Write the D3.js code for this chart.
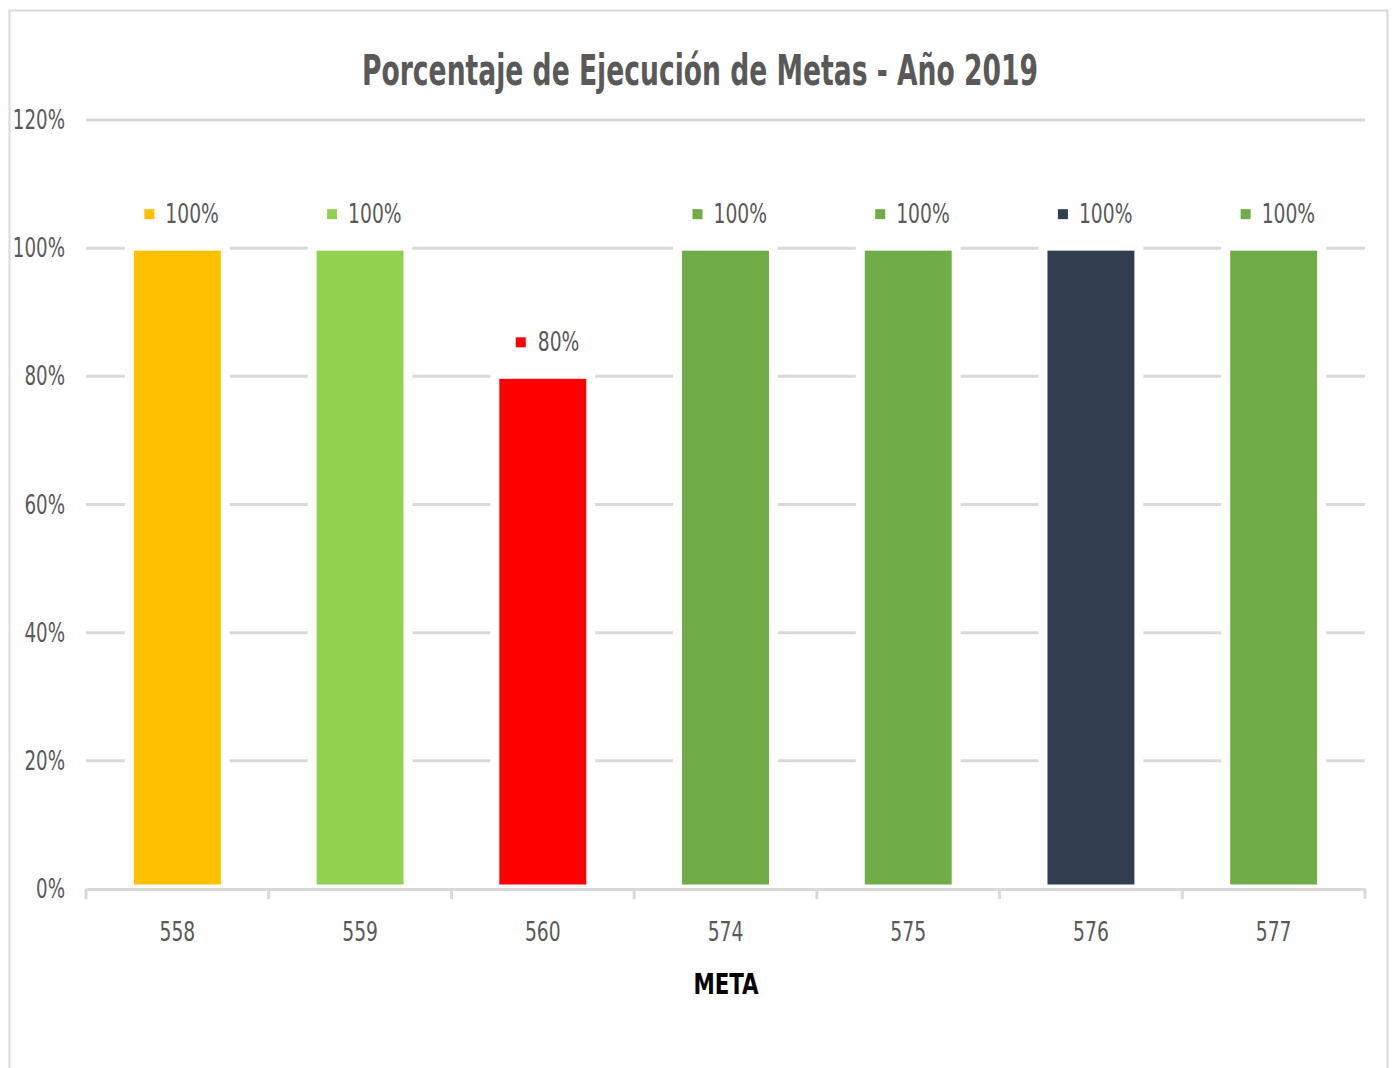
<!DOCTYPE html>
<html>
<head>
<meta charset="utf-8">
<script src="https://cdn.jsdelivr.net/npm/d3@7"></script>
<style>
  body { margin: 0; background: #fff; }
  svg text { font-family: "Liberation Sans Narrow", "DejaVu Sans Condensed", sans-serif; }
</style>
</head>
<body>
<div id="chart"></div>
<script>
const metas = ["558", "559", "560", "574", "575", "576", "577"];
const ejecucion = [1.00, 1.00, 0.80, 1.00, 1.00, 1.00, 1.00];
const colores = ["#FFC000", "#92D050", "#FF0000", "#70AD47", "#70AD47", "#323E4F", "#70AD47"];
const yTicks = [0, 0.2, 0.4, 0.6, 0.8, 1.0, 1.2];

const width = 1393, height = 1068;
const margin = {top: 120, right: 28, bottom: 179, left: 86};

function add_svg(wrapper)
{
  var svg = d3.select(wrapper).select("svg");
  if (svg.empty())
    svg = d3.select(wrapper).append("svg");
  else
    svg.selectAll("*").remove();
  return svg.attr("width", width).attr("height", height);
}

// squeeze text horizontally, the original uses a narrow font
function narrow(sel, k)
{
  sel.each(function() {
    const w = this.getComputedTextLength();
    d3.select(this).attr("textLength", w * k).attr("lengthAdjust", "spacingAndGlyphs");
  });
}

function draw_chart(wrapper)
{
  let svg = add_svg(wrapper);

  // chart area frame
  svg.append("rect")
    .attr("x", 9.5).attr("y", 10.5)
    .attr("width", 1378).attr("height", 1080)
    .attr("fill", "white")
    .attr("stroke", "#d9d9d9")
    .attr("stroke-width", 2);

  const x = d3.scaleBand()
    .domain(metas)
    .range([margin.left, width - margin.right])
    .paddingInner(0.475)
    .paddingOuter(0.2375);

  const y = d3.scaleLinear()
    .domain([0, 1.2])
    .range([height - margin.bottom, margin.top]);

  // gridlines
  svg.append("g")
    .selectAll("line")
    .data(yTicks.filter(d => d > 0))
    .enter()
    .append("line")
    .attr("x1", margin.left).attr("x2", width - margin.right)
    .attr("y1", d => y(d)).attr("y2", d => y(d))
    .attr("stroke", "#d9d9d9")
    .attr("stroke-width", 3);

  // y labels
  svg.append("g")
    .selectAll("text")
    .data(yTicks)
    .enter()
    .append("text")
    .attr("x", 65)
    .attr("y", d => y(d))
    .attr("dy", "0.35em")
    .attr("text-anchor", "end")
    .attr("font-size", "26px")
    .attr("fill", "#595959")
    .text(d => d3.format(".0%")(d))
    .call(narrow, 0.78);

  // bars (white outline cuts the gridlines like Excel)
  const data = metas.map((m, i) => ({meta: m, value: ejecucion[i], color: colores[i]}));

  svg.append("g")
    .selectAll("rect")
    .data(data)
    .enter()
    .append("rect")
    .attr("x", d => x(d.meta))
    .attr("y", d => y(d.value) - 2)
    .attr("width", x.bandwidth())
    .attr("height", d => y(0) - y(d.value) + 2)
    .attr("fill", d => d.color)
    .attr("stroke", "white")
    .attr("stroke-width", 9);

  // x axis
  const axis = svg.append("g")
    .attr("transform", "translate(0," + y(0) + ")")
    .call(d3.axisBottom(x).tickSize(0).tickPadding(34));
  axis.select(".domain").attr("stroke", "#d9d9d9").attr("stroke-width", 3);
  axis.selectAll("text")
    .attr("font-size", "26px")
    .attr("fill", "#595959")
    .style("font-family", "Liberation Sans Narrow, DejaVu Sans Condensed, sans-serif")
    .call(narrow, 0.8);

  const bounds = metas.map(m => x(m) - x.step() * x.paddingInner() / 2).concat([width - margin.right]);
  axis.selectAll(".sep")
    .data(bounds)
    .enter()
    .append("line")
    .attr("x1", d => d).attr("x2", d => d)
    .attr("y1", 0).attr("y2", 10)
    .attr("stroke", "#d9d9d9")
    .attr("stroke-width", 3);

  // data labels with legend key
  const lbl = svg.append("g")
    .selectAll("g")
    .data(data)
    .enter()
    .append("g")
    .attr("transform", d => "translate(" + (x(d.meta) + x.bandwidth() / 2) + "," + (y(d.value) - 34) + ")");

  lbl.append("rect")
    .attr("x", d => d.value === 1 ? -33 : -27)
    .attr("y", -5)
    .attr("width", 10).attr("height", 10)
    .attr("fill", d => d.color);

  lbl.append("text")
    .attr("x", d => d.value === 1 ? -12 : -5)
    .attr("dy", "0.35em")
    .attr("font-size", "26px")
    .attr("fill", "#595959")
    .text(d => d3.format(".0%")(d.value))
    .call(narrow, 0.8);

  // title
  svg.append("text")
    .attr("x", 700)
    .attr("y", 70)
    .attr("dy", "0.35em")
    .attr("text-anchor", "middle")
    .attr("font-size", "43px")
    .attr("font-weight", "bold")
    .attr("fill", "#595959")
    .text("Porcentaje de Ejecución de Metas - Año 2019")
    .attr("textLength", 676)
    .attr("lengthAdjust", "spacingAndGlyphs");

  // axis title
  svg.append("text")
    .attr("x", 726)
    .attr("y", 984)
    .attr("dy", "0.35em")
    .attr("text-anchor", "middle")
    .attr("font-size", "29px")
    .attr("font-weight", "bold")
    .attr("fill", "#000")
    .text("META")
    .call(narrow, 0.82);
}

draw_chart("#chart");
</script>
</body>
</html>
